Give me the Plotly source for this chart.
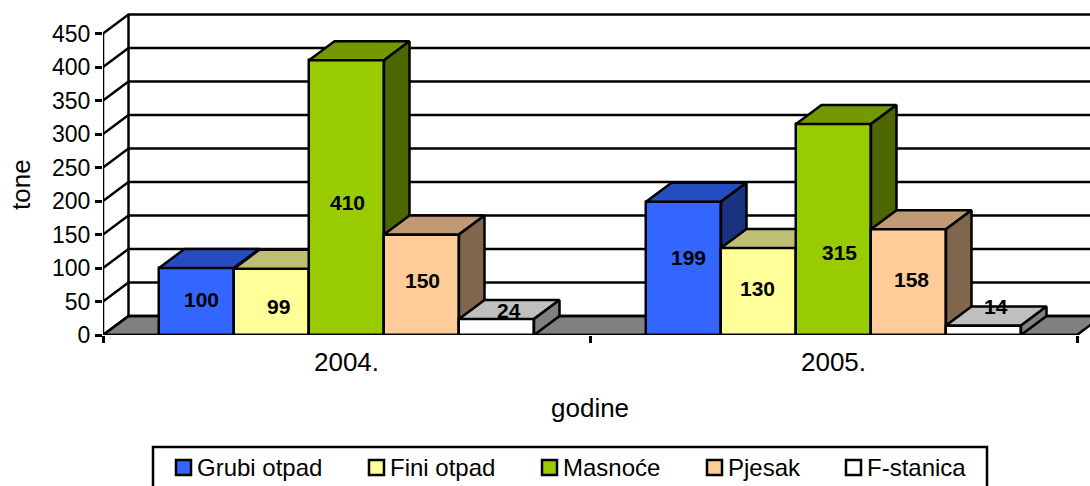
import plotly.graph_objects as go

years = ["2004.", "2005."]
series_names = ["Grubi otpad", "Fini otpad", "Masnoće", "Pjesak", "F-stanica"]
grubi = [100, 199]
fini = [99, 130]
masnoce = [410, 315]
pjesak = [150, 158]
fstanica = [24, 14]
series_values = [grubi, fini, masnoce, pjesak, fstanica]
front_colors = ["#3366FF", "#FFFF99", "#99CC00", "#FFCC99", "#FFFFFF"]
top_colors = ["#264DBF", "#BFBF73", "#739900", "#BF9973", "#BFBFBF"]
side_colors = ["#1A3380", "#808050", "#4D6600", "#80664D", "#808080"]
y_ticks = list(range(0, 451, 50))
# label nudges in px, as placed in the reference
label_dx = [[5, 5], [7, -1], [1, 6], [1, 3], [12, 12]]
label_dy = [[2, 11], [-5, 3], [-5, -23], [4, 3], [16, 24]]
legend_swatch_px = [176, 369, 542, 707, 846]
legend_text_px = [198, 391, 564, 729, 868]

W, H = 1090, 486
L, T, Z = 103, 10, 335            # plot left, top, y of value 0
PX_Y = 33.5 / 50                  # px per tone
PX_X = 487                        # px per category
DX, DY = 25.5 / PX_X, 19 / PX_Y   # 3D depth in axis units
BW = 75 / PX_X
LW = 2.5
FONT = "Liberation Sans, Arial, sans-serif"
xr = [0, (W - L) / PX_X]
yr = [0, (Z - T) / PX_Y]


def px(x):
    return (x - L) / (W - L)


def py(y):
    return (Z - y) / (Z - T)


def poly(xs, ys, fill, axis=""):
    return go.Scatter(x=xs, y=ys, mode="lines", fill="toself" if fill else None, fillcolor=fill,
                      line=dict(color="black", width=LW), hoverinfo="skip", showlegend=False,
                      cliponaxis=False, xaxis="x" + axis, yaxis="y" + axis)


fig = go.Figure()
# floor, back wall, left wall
fig.add_trace(poly([0, 2, 2 + DX, DX, 0], [0, 0, DY, DY, 0], "#808080"))
for v in y_ticks:
    fig.add_trace(poly([0, DX, xr[1]], [v, v + DY, v + DY], None))
fig.add_trace(poly([DX, DX], [DY, 450 + DY], None))
fig.add_trace(poly([0, 0], [0, 450], None))
fig.add_trace(poly([0, 2], [0, 0], None))

annotations = []
for s, vals in enumerate(series_values):
    axis = str(s + 2)
    xs = [g + 0.5 + (s - 2) * BW for g in range(len(years))]
    fig.add_trace(go.Bar(x=xs, y=vals, width=BW, name=series_names[s], showlegend=False,
                         marker=dict(color=front_colors[s], line=dict(color="black", width=LW)),
                         cliponaxis=False, hoverinfo="x+y", xaxis="x" + axis, yaxis="y" + axis))
    for c, v in zip(xs, vals):
        a, b = c - BW / 2, c + BW / 2
        fig.add_trace(poly([a, b, b + DX, a + DX, a], [v, v, v + DY, v + DY, v], top_colors[s], axis))
        fig.add_trace(poly([b, b + DX, b + DX, b, b], [0, DY, v + DY, v, 0], side_colors[s], axis))
    for g, (c, v) in enumerate(zip(xs, vals)):
        annotations.append(dict(x=c, y=v / 2, xref="x", yref="y", text=str(v), showarrow=False,
                                xshift=label_dx[s][g], yshift=label_dy[s][g],
                                font=dict(family=FONT, size=21, color="black", weight="bold")))

shapes = [dict(type="rect", xref="paper", yref="paper", x0=px(153), x1=px(987), y0=py(447), y1=py(495),
               line=dict(color="black", width=LW), fillcolor="white")]
for s, name in enumerate(series_names):
    shapes.append(dict(type="rect", xref="paper", yref="paper",
                       x0=px(legend_swatch_px[s]), x1=px(legend_swatch_px[s] + 15),
                       y0=py(460), y1=py(475), fillcolor=front_colors[s],
                       line=dict(color="black", width=LW)))
    annotations.append(dict(x=px(legend_text_px[s]), y=py(467.5), xref="paper", yref="paper", text=name,
                            showarrow=False, xanchor="left", yanchor="middle", xshift=-3,
                            font=dict(family=FONT, size=24, color="black")))

annotations.append(dict(x=px(589.5), y=py(408), xref="paper", yref="paper", text="godine", showarrow=False,
                        xanchor="center", yanchor="middle", font=dict(family=FONT, size=26, color="black")))
annotations.append(dict(x=px(21), y=py(185), xref="paper", yref="paper", text="tone", showarrow=False,
                        xanchor="center", yanchor="middle", textangle=-90,
                        font=dict(family=FONT, size=26, color="black")))

layout = dict(
    width=W, height=H, autosize=False, paper_bgcolor="white", plot_bgcolor="white",
    margin=dict(l=L, r=0, t=T, b=H - Z, pad=0), showlegend=False, bargap=0,
    font=dict(family=FONT, size=23, color="black"), annotations=annotations, shapes=shapes,
    xaxis=dict(range=xr, tickvals=[0.5, 1.5], ticktext=years, ticks="", showgrid=False, zeroline=False,
               showline=False, ticklabelstandoff=9, tickfont=dict(size=26),
               minor=dict(tickvals=[0, 1, 2], ticks="outside", ticklen=7, tickwidth=LW, tickcolor="black",
                          showgrid=False)),
    yaxis=dict(range=yr, tickvals=y_ticks, ticks="outside", ticklen=7, tickwidth=LW, tickcolor="black",
               showgrid=False, zeroline=False, showline=False, tickfont=dict(size=23)),
)
for s in range(len(series_names)):
    n = str(s + 2)
    layout["xaxis" + n] = dict(range=xr, overlaying="x", visible=False)
    layout["yaxis" + n] = dict(range=yr, overlaying="y", visible=False)
fig.update_layout(**layout)
fig.write_html("out.html", config=dict(displayModeBar=False),
               post_script="document.body.style.margin='0';document.body.style.overflow='hidden';")
